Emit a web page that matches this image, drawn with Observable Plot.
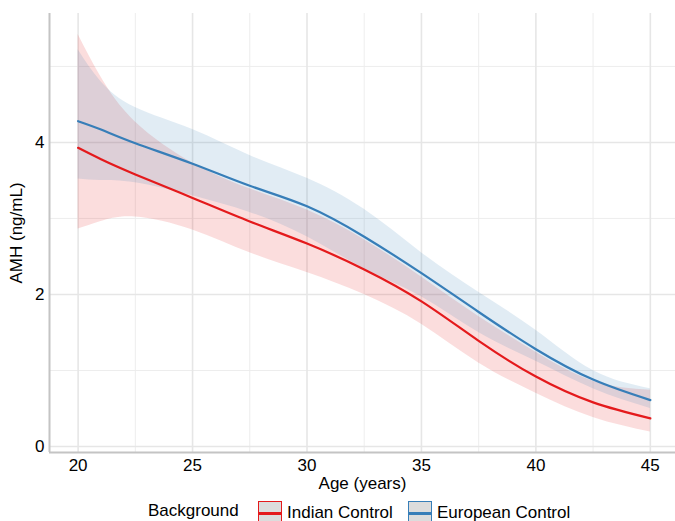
<!DOCTYPE html>
<html>
<head>
<meta charset="utf-8">
<script src="https://cdn.jsdelivr.net/npm/d3@7"></script>
<script src="https://cdn.jsdelivr.net/npm/@observablehq/plot@0.6"></script>
<style>
  html, body { margin: 0; padding: 0; background: #fff; }
  body { width: 675px; height: 521px; overflow: hidden; font-family: "Liberation Sans", Arial, sans-serif; }
  #legend { position: relative; height: 21px; font-size: 17px; color: #000; }
  #legend .item { position: absolute; top: 1px; display: flex; align-items: center; }
  #legend .key { width: 22px; height: 22px; border: 1px solid; background: #dcdcdc; position: relative; box-sizing: content-box; }
  #legend .key span { position: absolute; left: 0; right: 0; top: 9.5px; height: 3px; }
</style>
</head>
<body>
<div id="chart"></div>
<div id="legend"></div>
<script>
// Data
const ages = [20, 21, 22.5, 25, 27.5, 30, 32.5, 35, 37.5, 40, 42.5, 45];
const indianFit = [3.93, 3.78, 3.58, 3.27, 2.96, 2.67, 2.33, 1.91, 1.39, 0.92, 0.58, 0.37];
const indianLo  = [2.86, 2.96, 3.02, 2.85, 2.55, 2.29, 2.00, 1.61, 1.10, 0.70, 0.38, 0.19];
const indianHi  = [5.42, 4.86, 4.27, 3.73, 3.39, 3.11, 2.72, 2.23, 1.71, 1.24, 0.86, 0.74];
const europeanFit = [4.28, 4.17, 3.99, 3.72, 3.43, 3.16, 2.76, 2.28, 1.77, 1.28, 0.88, 0.61];
const europeanLo  = [3.52, 3.50, 3.47, 3.30, 3.08, 2.76, 2.34, 1.97, 1.50, 1.12, 0.76, 0.50];
const europeanHi  = [5.22, 4.80, 4.46, 4.17, 3.83, 3.53, 3.12, 2.55, 2.03, 1.53, 1.00, 0.76];

const groups = ["Indian Control", "European Control"];
const colors = ["#e41a1c", "#377eb8"];
const xMajor = [20, 25, 30, 35, 40, 45];
const xMinor = [22.5, 27.5, 32.5, 37.5, 42.5];
const yMajor = [0, 2, 4];
const yMinor = [1, 3, 5];
const xDomain = [18.75, 46.1];
const yDomain = [-0.079, 5.697];

const rows = [];
ages.forEach((a, i) => {
  rows.push({group: groups[0], age: a, fit: indianFit[i], lo: indianLo[i], hi: indianHi[i]});
});
ages.forEach((a, i) => {
  rows.push({group: groups[1], age: a, fit: europeanFit[i], lo: europeanLo[i], hi: europeanHi[i]});
});

const font = "Liberation Sans, Arial, sans-serif";
const chart = Plot.plot({
  width: 675,
  height: 500,
  marginLeft: 49,
  marginRight: 0,
  marginTop: 13,
  marginBottom: 48,
  style: {fontFamily: font, fontSize: "17px", color: "#000", background: "#fff"},
  x: {domain: xDomain},
  y: {domain: yDomain},
  color: {domain: groups, range: colors},
  marks: [
    Plot.ruleX(xMinor, {stroke: "#ebebeb", strokeWidth: 0.9}),
    Plot.ruleY(yMinor, {stroke: "#ebebeb", strokeWidth: 0.9}),
    Plot.ruleX(xMajor, {stroke: "#e6e6e6", strokeWidth: 1.6}),
    Plot.ruleY(yMajor, {stroke: "#e6e6e6", strokeWidth: 1.6}),
    Plot.areaY(rows, {x: "age", y1: "lo", y2: "hi", fill: "group", fillOpacity: 0.15, curve: "natural"}),
    Plot.lineY(rows, {x: "age", y: "fit", stroke: "group", strokeWidth: 2.2, curve: "natural"}),
    Plot.ruleX([xDomain[0]], {stroke: "#c4c4c4", strokeWidth: 2}),
    Plot.ruleY([yDomain[0]], {stroke: "#c4c4c4", strokeWidth: 2}),
    Plot.axisX(xMajor, {tickSize: 0, tickPadding: 6, tickFormat: "d", label: "Age (years)", labelAnchor: "center", labelArrow: "none", labelOffset: 36, fontSize: 17}),
    Plot.axisY(yMajor, {tickSize: 0, tickPadding: 5, tickFormat: "d", label: "AMH (ng/mL)", labelAnchor: "center", labelArrow: "none", labelOffset: 40, fontSize: 17})
  ]
});
document.getElementById("chart").appendChild(chart);

// Legend
const legend = document.getElementById("legend");
const title = document.createElement("div");
title.className = "item";
title.style.left = "148px";
title.textContent = "Background";
legend.appendChild(title);
const lefts = [258, 408];
groups.forEach((g, i) => {
  const it = document.createElement("div");
  it.className = "item";
  it.style.left = lefts[i] + "px";
  const key = document.createElement("div");
  key.className = "key";
  key.style.borderColor = colors[i];
  const ln = document.createElement("span");
  ln.style.background = colors[i];
  key.appendChild(ln);
  const lab = document.createElement("div");
  lab.textContent = g;
  lab.style.marginLeft = "5px";
  it.appendChild(key);
  it.appendChild(lab);
  legend.appendChild(it);
});
</script>
</body>
</html>
